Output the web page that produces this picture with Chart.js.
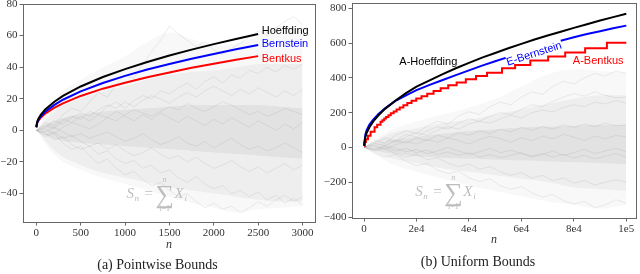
<!DOCTYPE html>
<html>
<head>
<meta charset="utf-8">
<script src="https://cdn.jsdelivr.net/npm/chart.js@4.4.1/dist/chart.umd.min.js"></script>
<style>
  body { margin: 0; background: #fff; }
  #wrap { position: relative; width: 640px; height: 274px; }
  canvas { position: absolute; top: 0; }
</style>
</head>
<body>
<div id="wrap">
  <canvas id="left" width="320" height="274" style="left:0"></canvas>
  <canvas id="right" width="320" height="274" style="left:320px"></canvas>
</div>
<script>
// ---- (a) pointwise bounds ----
const leftXTicks = [0, 500, 1000, 1500, 2000, 2500, 3000];
const leftYTicks = [-40, -20, 0, 20, 40, 60, 80];

const leftBoundN = [0, 10, 25, 50, 100, 200, 300, 500, 750, 1000, 1250, 1500, 1750, 2000, 2250, 2500];
const leftHoeffding = [2, 5.5, 7.5, 9.8, 13.2, 18, 21.8, 27.8, 33.8, 38.8, 43.3, 47.4, 51.1, 54.6, 57.9, 61];
const leftBernstein = [2, 5, 6.8, 8.8, 11.8, 16, 19.4, 24.7, 30, 34.5, 38.5, 42, 45.3, 48.4, 51.3, 54];
const leftBentkus = [2, 4.6, 6.2, 8, 10.6, 14.2, 17.1, 21.8, 26.4, 30.2, 33.6, 36.7, 39.6, 42.2, 44.7, 47];

// cloud of sample paths S_n
const leftBandN = [0, 250, 500, 750, 1000, 1250, 1500, 1750, 2000, 2250, 2500, 2750, 3000];
const leftOuterHi = [0, 22, 32, 40, 47, 56, 62, 58, 54, 55, 60, 66, 64];
const leftOuterLo = [0, -18, -25, -30, -34, -38, -42, -46, -49, -52, -50, -49, -48];
const leftMainHi = [0, 14, 20, 25, 28, 32, 35, 37, 38, 40, 42, 42, 42];
const leftMainLo = [0, -15, -22, -27, -30, -33, -36, -38, -40, -42, -44, -45, -45];
const leftCoreHi = [0, 7, 10, 12, 13, 14, 15, 16, 16, 16, 16, 15, 14];
const leftCoreLo = [0, -6, -8, -9, -10, -11, -12, -13, -14, -15, -16, -17, -18];

const leftPathN = [0, 100, 200, 300, 400, 500, 600, 700, 800, 900, 1000, 1100, 1200, 1300, 1400, 1500,
  1600, 1700, 1800, 1900, 2000, 2100, 2200, 2300, 2400, 2500, 2600, 2700, 2800, 2900, 3000];
const leftPaths = [
  [0, 3, 1, 6, 9, 7, 12, 10, 15, 18, 14, 19, 22, 20, 25, 23, 27, 30, 26, 31, 34, 30, 35, 33, 38, 36, 40, 37, 41, 39, 42],
  [0, -2, -6, -4, -9, -12, -10, -15, -13, -18, -21, -19, -24, -22, -27, -25, -30, -33, -29, -34, -37, -35, -40, -38, -42, -39, -44, -41, -46, -43, -47],
  [0, 4, 2, 7, 5, 9, 6, 10, 8, 12, 9, 6, 10, 7, 11, 8, 5, 9, 6, 3, 7, 4, 8, 5, 2, 6, 3, 0, 4, 1, 5],
  [0, 5, 3, 10, 14, 12, 18, 24, 21, 29, 35, 33, 42, 50, 57, 66, 61, 57, 53, 56, 51, 48, 52, 55, 59, 63, 60, 65, 69, 72, 67],
  [0, -4, -2, -8, -12, -10, -16, -21, -18, -24, -28, -26, -31, -35, -33, -38, -42, -40, -45, -49, -46, -50, -48, -52, -49, -45, -48, -44, -41, -45, -42],
  [0, 2, 6, 4, 8, 11, 9, 13, 16, 14, 18, 15, 19, 22, 20, 17, 21, 24, 21, 25, 28, 25, 22, 26, 23, 27, 24, 21, 25, 22, 26],
  [0, -3, -1, -5, -3, -7, -10, -8, -12, -9, -13, -16, -14, -11, -15, -18, -16, -20, -17, -21, -24, -22, -19, -23, -26, -23, -27, -24, -21, -25, -22],
  [0, 1, -2, 2, 5, 3, 1, 4, 8, 6, 10, 13, 11, 9, 12, 15, 13, 17, 14, 12, 15, 18, 16, 13, 10, 12, 9, 11, 14, 12, 10],
  [0, -1, 2, -1, -4, -2, -5, -3, -1, -4, -7, -5, -2, -6, -9, -7, -4, -8, -10, -7, -11, -8, -5, -9, -12, -10, -13, -11, -8, -11, -14]
];

// ---- (b) uniform bounds ----
const rightXTicks = [0, 20000, 40000, 60000, 80000, 100000];
const rightXLabels = ['0', '2e4', '4e4', '6e4', '8e4', '1e5'];
const rightYTicks = [-400, -200, 0, 200, 400, 600, 800];

const rightBoundN = [0, 500, 1000, 2000, 3500, 5500, 8000, 12000, 16000, 20000, 25000, 30000, 35000, 40000,
  45000, 50000, 55000, 60000, 65000, 70000, 75000, 80000, 85000, 90000, 95000, 100000];
const rightHoeffding = [10, 60, 85, 115, 150, 185, 222, 270, 312, 350, 386, 421, 455, 486,
  516, 543, 570, 595, 620, 643, 665, 687, 708, 729, 749, 768];

// E-Bernstein is broken where its label sits
const rightBernN = [0, 500, 1000, 2000, 3500, 5500, 8000, 12000, 16000, 20000, 25000, 30000, 35000, 40000,
  45000, 50000, 54000, 64000, 75000, 80000, 85000, 90000, 95000, 100000];
const rightBernstein = [10, 75, 100, 130, 160, 192, 225, 268, 300, 330, 360, 388, 416, 443,
  470, 495, 515, null, 613, 633, 652, 668, 685, 700];

// A-Bentkus is a step function
const rightBentN = [0, 300, 700, 1500, 2500, 4000, 5000, 6300, 7000, 7700, 8400, 9300, 10200, 11300, 12400,
  13600, 15000, 16500, 18100, 19900, 21900, 24100, 26500, 29200, 32100, 35300, 38800, 42700, 46900,
  52600, 57600, 63400, 70200, 76700, 84300, 92600, 100000];
const rightBentkus = [8, 32, 48, 68, 90, 116, 130, 148, 157, 166, 175, 185, 196, 207, 218,
  230, 242, 255, 268, 281, 295, 309, 324, 340, 357, 374, 392, 411, 430,
  455, 474, 499, 522, 545, 570, 602, 602];

const rightBandN = [0, 10000, 20000, 30000, 40000, 50000, 60000, 70000, 80000, 90000, 100000];
const rightOuterHi = [0, 100, 150, 190, 230, 280, 350, 420, 450, 440, 430];
const rightOuterLo = [0, -90, -140, -180, -220, -250, -280, -310, -330, -350, -330];
const rightMainHi = [0, 80, 110, 140, 160, 190, 220, 250, 280, 300, 300];
const rightMainLo = [0, -60, -90, -120, -140, -160, -180, -200, -230, -240, -250];
const rightCoreHi = [0, 40, 60, 80, 95, 105, 115, 120, 125, 130, 130];
const rightCoreLo = [0, -35, -50, -60, -65, -70, -75, -80, -85, -90, -95];

const rightPathN = [0, 4000, 8000, 12000, 16000, 20000, 24000, 28000, 32000, 36000, 40000, 44000, 48000,
  52000, 56000, 60000, 64000, 68000, 72000, 76000, 80000, 84000, 88000, 92000, 96000, 100000];
const rightPaths = [
  [0, 40, 25, 70, 95, 80, 125, 150, 135, 180, 205, 190, 235, 260, 245, 290, 320, 305, 350, 380, 365, 400, 425, 410, 440, 425],
  [0, -30, -55, -40, -80, -105, -90, -130, -150, -135, -175, -195, -180, -220, -240, -225, -260, -285, -270, -305, -325, -310, -345, -330, -300, -320],
  [0, 20, 45, 30, 60, 85, 70, 100, 120, 105, 135, 150, 140, 165, 185, 170, 200, 215, 205, 230, 245, 235, 260, 250, 270, 255],
  [0, -20, -5, -35, -55, -40, -70, -60, -90, -110, -95, -125, -110, -140, -160, -145, -175, -160, -190, -175, -205, -190, -215, -200, -185, -200],
  [0, 25, 10, 40, 25, 55, 40, 70, 55, 85, 70, 95, 80, 105, 90, 115, 100, 120, 105, 130, 115, 135, 120, 140, 125, 130],
  [0, -15, 5, -20, -5, -30, -15, -40, -25, -45, -30, -55, -40, -60, -45, -30, -50, -35, -55, -40, -60, -45, -65, -50, -35, -55],
  [0, 30, 55, 40, 75, 60, 95, 120, 105, 140, 165, 150, 180, 200, 190, 220, 245, 235, 265, 290, 310, 295, 320, 300, 285, 290],
  [0, 10, -10, 15, 35, 20, 45, 30, 55, 40, 20, 45, 65, 50, 30, 55, 40, 65, 50, 75, 60, 40, 65, 50, 70, 60],
  [0, -10, 10, -5, -25, -10, -35, -20, 0, -20, -40, -25, -5, -30, -15, -35, -55, -40, -20, -45, -30, -10, -35, -20, -5, -25]
];

const SERIF = "'Liberation Serif', 'DejaVu Serif', serif";
const SANS = "'Liberation Sans', 'DejaVu Sans', sans-serif";
const AXIS = '#666';

function pts(xs, ys) {
  return xs.map(function (x, i) { return { x: x, y: ys[i] }; });
}

function boundLine(xs, ys, color, stepped) {
  return { data: pts(xs, ys), borderColor: color, borderWidth: 2, pointRadius: 0, fill: false, order: 0, stepped: !!stepped };
}

// gray cloud: three nested bands plus a few visible paths
function cloudSets(bandN, bands, pathN, paths, first) {
  var sets = [];
  var alphas = [0.028, 0.045, 0.05];
  bands.forEach(function (b, k) {
    var idx = first + sets.length;
    sets.push({ data: pts(bandN, b[0]), borderWidth: 0, pointRadius: 0, order: 10, tension: 0.4,
      fill: { target: idx + 1 }, backgroundColor: 'rgba(0,0,0,' + alphas[k] + ')' });
    sets.push({ data: pts(bandN, b[1]), borderWidth: 0, pointRadius: 0, order: 10, tension: 0.4, fill: false });
  });
  paths.forEach(function (p) {
    sets.push({ data: pts(pathN, p), borderColor: 'rgba(90,90,90,0.11)', borderWidth: 1, pointRadius: 0, order: 5, fill: false });
  });
  return sets;
}

// frame, curve labels and the S_n formula
const notesPlugin = {
  id: 'notes',
  afterDatasetsDraw: function (chart, args, opts) {
    var ctx = chart.ctx, xs = chart.scales.x, ys = chart.scales.y, a = chart.chartArea;
    ctx.save();
    ctx.strokeStyle = AXIS;
    ctx.lineWidth = 1;
    ctx.strokeRect(Math.round(a.left) + 0.5, Math.round(a.top) + 0.5, Math.round(a.right - a.left), Math.round(a.bottom - a.top));

    opts.labels.forEach(function (l) {
      ctx.save();
      ctx.translate(xs.getPixelForValue(l.x), ys.getPixelForValue(l.y));
      ctx.rotate((l.rot || 0) * Math.PI / 180);
      ctx.font = '11px ' + SANS;
      ctx.fillStyle = l.color;
      ctx.textAlign = l.align || 'left';
      ctx.textBaseline = 'middle';
      ctx.fillText(l.text, 0, 0);
      ctx.restore();
    });

    var fx = xs.getPixelForValue(opts.formula[0]), fy = ys.getPixelForValue(opts.formula[1]);
    ctx.fillStyle = '#bdbdbd';
    ctx.textBaseline = 'alphabetic';
    ctx.textAlign = 'left';
    ctx.font = 'italic 15px ' + SERIF;
    ctx.fillText('S', fx, fy);
    ctx.font = 'italic 9px ' + SERIF;
    ctx.fillText('n', fx + 8, fy + 3);
    ctx.font = '15px ' + SERIF;
    ctx.fillText('=', fx + 18, fy);
    ctx.font = '26px ' + SERIF;
    ctx.fillText('\u2211', fx + 29, fy + 5);
    ctx.textAlign = 'center';
    ctx.font = 'italic 8px ' + SERIF;
    ctx.fillText('n', fx + 38, fy - 16);
    ctx.font = '8px ' + SERIF;
    ctx.fillText('i=1', fx + 38, fy + 13);
    ctx.textAlign = 'left';
    ctx.font = 'italic 15px ' + SERIF;
    ctx.fillText('X', fx + 48, fy);
    ctx.font = 'italic 9px ' + SERIF;
    ctx.fillText('i', fx + 58, fy + 3);
    ctx.restore();
  }
};

function makeChart(id, c) {
  return new Chart(document.getElementById(id), {
    type: 'line',
    data: { datasets: c.datasets },
    plugins: [notesPlugin],
    options: {
      responsive: false,
      animation: false,
      events: [],
      layout: { padding: c.padding },
      scales: {
        x: {
          type: 'linear', min: c.xMin, max: c.xMax,
          afterBuildTicks: function (axis) { axis.ticks = c.xTicks.map(function (v) { return { value: v }; }); },
          afterFit: function (s) { s.height = c.xHeight; s.paddingLeft = 0; s.paddingRight = 0; },
          ticks: { color: '#333', padding: 1, maxRotation: 0, font: { family: SERIF, size: 11 },
            callback: c.xLabel },
          grid: { drawOnChartArea: false, drawTicks: true, tickLength: 3.5, color: AXIS },
          border: { color: AXIS },
          title: { display: true, text: 'n', color: '#333', font: { family: SERIF, size: 12, style: 'italic' },
            padding: { top: 0, bottom: c.nPad } }
        },
        y: {
          type: 'linear', min: c.yMin, max: c.yMax,
          afterBuildTicks: function (axis) { axis.ticks = c.yTicks.map(function (v) { return { value: v }; }); },
          afterFit: function (s) { s.width = c.yWidth; s.paddingTop = 0; s.paddingBottom = 0; },
          ticks: { color: '#333', padding: 2, font: { family: SERIF, size: 11 },
            callback: function (v) { return String(v).replace('-', '\u2212'); } },
          grid: { drawOnChartArea: false, drawTicks: true, tickLength: 3.5, color: AXIS },
          border: { color: AXIS }
        }
      },
      plugins: {
        legend: { display: false },
        tooltip: { enabled: false },
        title: { display: true, position: 'bottom', text: c.caption, color: '#222',
          font: { family: SERIF, size: 14, weight: 'normal' }, padding: { top: 0, bottom: c.capPad } },
        notes: { labels: c.labels, formula: c.formula }
      }
    }
  });
}

var leftSets = [
  boundLine(leftBoundN, leftHoeffding, '#000'),
  boundLine(leftBoundN, leftBernstein, '#0000ff'),
  boundLine(leftBoundN, leftBentkus, '#ff0000')
];
leftSets = leftSets.concat(cloudSets(leftBandN,
  [[leftOuterHi, leftOuterLo], [leftMainHi, leftMainLo], [leftCoreHi, leftCoreLo]],
  leftPathN, leftPaths, leftSets.length));

makeChart('left', {
  datasets: leftSets,
  padding: { left: 0, right: 5, top: 4, bottom: 0 },
  xMin: -150, xMax: 3140, yMin: -58, yMax: 80,
  xTicks: leftXTicks, yTicks: leftYTicks,
  xLabel: function (v) { return String(v); },
  xHeight: 35.2, yWidth: 23, nPad: 5, capPad: 0,
  caption: '(a) Pointwise Bounds',
  labels: [
    { text: 'Hoeffding', x: 2540, y: 63, color: '#000' },
    { text: 'Bernstein', x: 2540, y: 54.5, color: '#0000ff' },
    { text: 'Bentkus', x: 2540, y: 45, color: '#ff0000' }
  ],
  formula: [1017, -42.5]
});

var rightSets = [
  boundLine(rightBoundN, rightHoeffding, '#000'),
  boundLine(rightBernN, rightBernstein, '#0000ff'),
  boundLine(rightBentN, rightBentkus, '#ff0000', true)
];
rightSets = rightSets.concat(cloudSets(rightBandN,
  [[rightOuterHi, rightOuterLo], [rightMainHi, rightMainLo], [rightCoreHi, rightCoreLo]],
  rightPathN, rightPaths, rightSets.length));

makeChart('right', {
  datasets: rightSets,
  padding: { left: 0, right: 4, top: 3, bottom: 0 },
  xMin: -4600, xMax: 103700, yMin: -405, yMax: 830,
  xTicks: rightXTicks, yTicks: rightYTicks,
  xLabel: function (v) { return rightXLabels[rightXTicks.indexOf(v)]; },
  xHeight: 35.7, yWidth: 32, nPad: 6.5, capPad: 3.5,
  caption: '(b) Uniform Bounds',
  labels: [
    { text: 'A-Hoeffding', x: 24500, y: 493, color: '#000', align: 'center' },
    { text: 'E-Bernstein', x: 64850, y: 537, color: '#0000ff', align: 'center', rot: -18 },
    { text: 'A-Bentkus', x: 89300, y: 497, color: '#ff0000', align: 'center' }
  ],
  formula: [19540, -280]
});
</script>
</body>
</html>
